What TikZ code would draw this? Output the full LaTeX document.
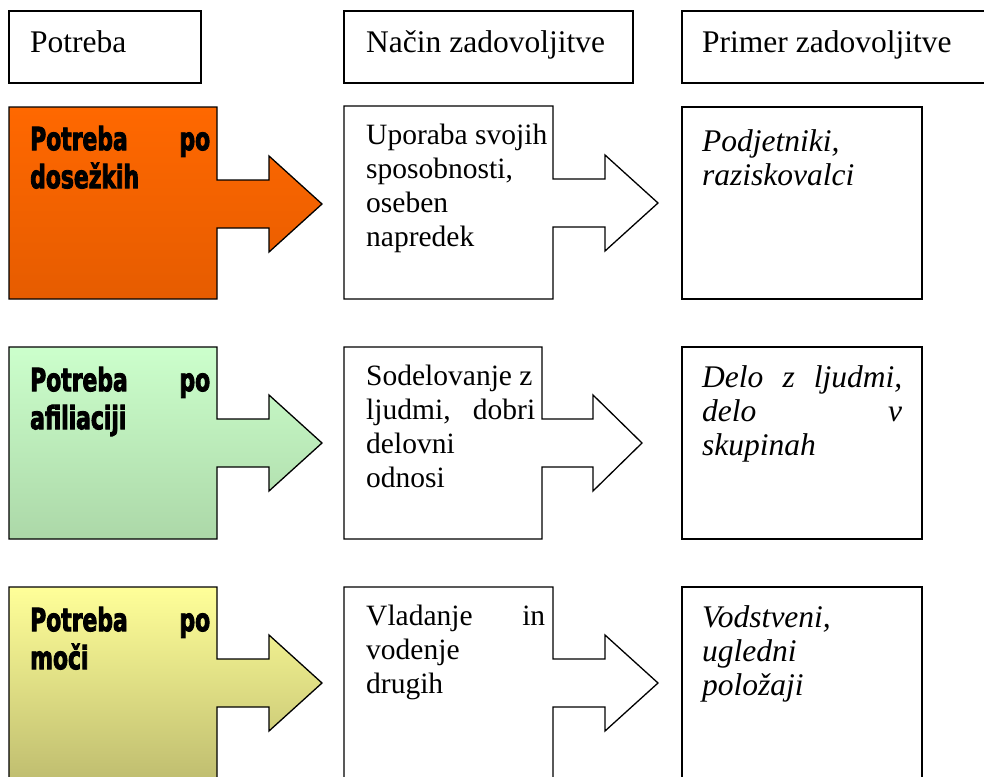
\documentclass[tikz,border=0pt]{standalone}
\usepackage{fontspec}
\setmainfont{Liberation Serif}
\newfontfamily\impactfont{DejaVu Sans Condensed Bold}[FakeStretch=0.76,FakeBold=2.6]

% arrow callout: #1 style, #2 left, #3 top, #4 right, #5 bottom,
% #6 shaft centre y, #7 head base x, #8 tip x
\newcommand\arrowbox[8]{%
  \draw[#1] (#2,#3) -- (#4,#3) -- (#4,#6-24) -- (#7,#6-24) -- (#7,#6-48)
    -- (#8,#6) -- (#7,#6+48) -- (#7,#6+24) -- (#4,#6+24) -- (#4,#5)
    -- (#2,#5) -- cycle;}
% a line whose words are spread over a given width
\newcommand\fullline[2]{\leavevmode\hbox to #1{#2}}

\begin{document}
\begin{tikzpicture}[x=1pt,y=-1pt,
  outline/.style={draw=black,line width=1.3pt,line join=miter},
  plainbox/.style={outline,fill=white},
  orangebox/.style={outline,top color=orangeTop,bottom color=orangeBot},
  greenbox/.style={outline,top color=greenTop,bottom color=greenBot},
  yellowbox/.style={outline,top color=yellowTop,bottom color=yellowBot},
  txt/.style={anchor=north west,inner sep=0pt,align=left,
    font=\fontsize{31.5}{34}\selectfont},
  waytxt/.style={txt,font=\fontsize{29.5}{34}\selectfont},
  itxt/.style={txt,font=\fontsize{31.5}{34}\selectfont\itshape},
  needtxt/.style={anchor=north west,inner sep=0pt,align=left,
    font=\impactfont\fontsize{32}{38}\selectfont},
]
\definecolor{orangeTop}{RGB}{255,104,0}
\definecolor{orangeBot}{RGB}{230,92,0}
\definecolor{greenTop}{RGB}{204,255,204}
\definecolor{greenBot}{RGB}{172,216,168}
\definecolor{yellowTop}{RGB}{255,255,153}
\definecolor{yellowBot}{RGB}{192,190,112}

\useasboundingbox (0,0) rectangle (984,776);
\clip (0,0) rectangle (984,776);

% column headers
\draw[plainbox] (9,11) rectangle (201,83);
\draw[plainbox] (344,11) rectangle (633,83);
\draw[plainbox] (682,11) rectangle (995,83);
\node[txt] (hdrNeed) at (30,28.2) {\strut Potreba};
\node[txt] (hdrWay) at (366,28.2) {\strut Način zadovoljitve};
\node[txt] (hdrExample) at (702,28.2) {\strut Primer zadovoljitve};

% row 1: achievement
\arrowbox{orangebox}{9}{107}{217}{299}{204}{269}{322}
\arrowbox{plainbox}{344}{106}{553}{299}{203}{605}{658}
\draw[plainbox] (682,107) rectangle (922,299);
\node[needtxt] (needA) at (30,123.4)
  {\strut\fullline{180pt}{Potreba\hfill po}\\dosežkih};
\node[waytxt] (wayA) at (366,120.2)
  {\strut Uporaba svojih\\sposobnosti,\\oseben\\napredek};
\node[itxt] (exA) at (702,127)
  {\strut Podjetniki,\\raziskovalci};

% row 2: affiliation
\arrowbox{greenbox}{9}{347}{217}{539}{443}{269}{322}
\arrowbox{plainbox}{344}{347}{542}{539}{443}{593}{642}
\draw[plainbox] (682,347) rectangle (922,539);
\node[needtxt] (needB) at (30,364.4)
  {\strut\fullline{180pt}{Potreba\hfill po}\\afiliaciji};
\node[waytxt] (wayB) at (366,361.2)
  {\strut Sodelovanje z\\\fullline{169pt}{ljudmi,\hfill dobri}\\delovni\\odnosi};
\node[itxt] (exB) at (702,363)
  {\strut\fullline{200pt}{Delo\hfill z\hfill ljudmi,}\\\fullline{200pt}{delo\hfill v}\\skupinah};

% row 3: power
\arrowbox{yellowbox}{9}{587}{217}{779}{683}{269}{322}
\arrowbox{plainbox}{344}{587}{553}{779}{683}{605}{658}
\draw[plainbox] (682,587) rectangle (922,779);
\node[needtxt] (needC) at (30,604.4)
  {\strut\fullline{180pt}{Potreba\hfill po}\\moči};
\node[waytxt] (wayC) at (366,601.2)
  {\strut\fullline{179pt}{Vladanje\hfill in}\\vodenje\\drugih};
\node[itxt] (exC) at (702,603)
  {\strut Vodstveni,\\ugledni\\položaji};
\end{tikzpicture}
\end{document}
